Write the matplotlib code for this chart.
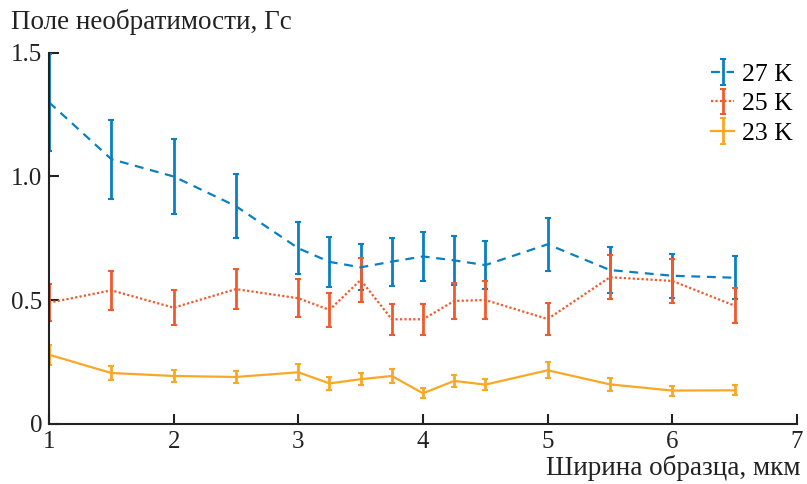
import matplotlib.pyplot as plt
import numpy as np

# =========================
# Data
# =========================

widths = [1, 1.5, 2, 2.5, 3, 3.25, 3.5, 3.75, 4, 4.25, 4.5, 5, 5.5, 6, 6.5]

field_27 = [1.30, 1.07, 1.00, 0.88, 0.71, 0.655, 0.633, 0.656, 0.677, 0.661, 0.642, 0.726, 0.622, 0.599, 0.591]
err_27 = [0.195, 0.16, 0.15, 0.13, 0.105, 0.10, 0.093, 0.097, 0.10, 0.098, 0.097, 0.107, 0.092, 0.089, 0.088]

field_25 = [0.49, 0.54, 0.47, 0.545, 0.508, 0.461, 0.582, 0.423, 0.423, 0.497, 0.501, 0.424, 0.593, 0.578, 0.478]
err_25 = [0.075, 0.08, 0.07, 0.08, 0.077, 0.07, 0.088, 0.063, 0.063, 0.074, 0.075, 0.063, 0.089, 0.088, 0.071]

field_23 = [0.28, 0.206, 0.194, 0.19, 0.209, 0.164, 0.181, 0.194, 0.124, 0.174, 0.159, 0.217, 0.160, 0.135, 0.136]
err_23 = [0.04, 0.03, 0.025, 0.025, 0.032, 0.026, 0.025, 0.03, 0.02, 0.025, 0.022, 0.032, 0.025, 0.02, 0.02]

labels = ["27 K", "25 K", "23 K"]
colors = ["#0A80C2", "#F15A2B", "#F9A825"]
styles = [(0, (4, 3)), (0, (1, 1)), "-"]

# =========================
# Plot
# =========================

plt.rcParams['font.family'] = ['Liberation Serif', 'DejaVu Serif']

fig = plt.figure(figsize=(8.07, 4.84), dpi=100)
ax = fig.add_axes([0.0607, 0.124, 0.9269, 0.767])

series = [(field_27, err_27), (field_25, err_25), (field_23, err_23)]
for (vals, errs), lab, col, ls in zip(series, labels, colors, styles):
    ax.errorbar(
        widths, vals, yerr=errs,
        color=col, linestyle=ls, linewidth=1.6,
        elinewidth=2, capsize=2, capthick=1.5,
        label=lab
    )

ax.set_xlim(1, 7)
ax.set_ylim(0, 1.5)
ax.set_xticks([1, 2, 3, 4, 5, 6, 7])
ax.set_yticks([0, 0.5, 1.0, 1.5])
ax.set_yticklabels(["0", "0.5", "1.0", "1.5"])

for s in ["top", "right"]:
    ax.spines[s].set_visible(False)
for s in ["left", "bottom"]:
    ax.spines[s].set_linewidth(1.5)
    ax.spines[s].set_color("#222222")

ax.tick_params(direction="in", length=7, width=1.5, labelsize=18, colors="#222222")
ax.tick_params(axis="x", pad=5)
ax.tick_params(axis="y", pad=5)

fig.text(0.014, 0.954, "Поле необратимости, Гс", fontsize=19.5,
         ha="left", va="center", color="#222222")
fig.text(0.992, 0.034, "Ширина образца, мкм", fontsize=19.5,
         ha="right", va="center", color="#222222")

ax.legend(loc="upper right", frameon=False, fontsize=18.5,
          handlelength=0.9, handletextpad=0.3, labelspacing=0.25,
          borderaxespad=0.0, bbox_to_anchor=(1.008, 1.0))

fig.savefig("out.png", dpi=100)
